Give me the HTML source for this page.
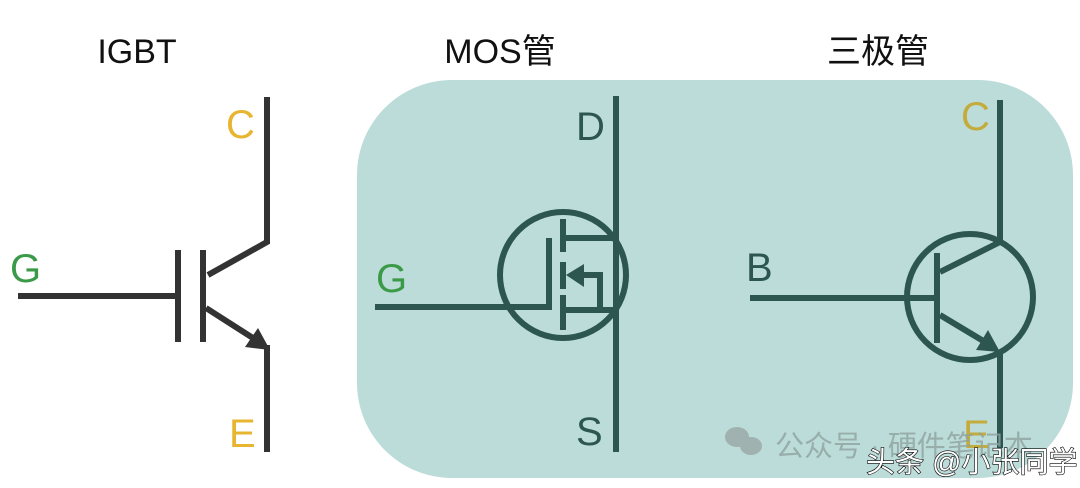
<!DOCTYPE html>
<html><head><meta charset="utf-8"><style>
html,body{margin:0;padding:0;background:#fff;width:1080px;height:488px;overflow:hidden}
</style></head><body>
<svg width="1080" height="488" viewBox="0 0 1080 488" xmlns="http://www.w3.org/2000/svg" font-family="Liberation Sans, Noto Sans CJK SC, sans-serif">
<rect x="357" y="80" width="716" height="398" rx="95" fill="#bcdcd9"/>
<g font-size="34" fill="#111" text-anchor="middle">
<text x="137" y="63">IGBT</text>
<text x="500" y="63">MOS管</text>
<text x="878" y="63">三极管</text>
</g>
<!-- IGBT -->
<g stroke="#333" stroke-width="6" fill="none">
<polyline points="267,97 267,242 208,275"/>
<line x1="18" y1="296" x2="178" y2="296"/>
<line x1="178" y1="250" x2="178" y2="342"/>
<line x1="203" y1="250" x2="203" y2="342"/>
<line x1="206" y1="308" x2="256" y2="340"/>
<line x1="267" y1="345" x2="267" y2="452"/>
</g>
<polygon points="270,350 245,347 258,328" fill="#333"/>
<g font-size="40">
<text x="226" y="138" fill="#e8b530">C</text>
<text x="10" y="282" fill="#3a9a48">G</text>
<text x="229" y="447" fill="#e8b530">E</text>
</g>
<!-- MOS -->
<g stroke="#2d5650" stroke-width="6" fill="none">
<line x1="616" y1="96" x2="616" y2="452"/>
<circle cx="563" cy="275" r="63"/>
<polyline points="375,307 549,307 549,238"/>
<line x1="563" y1="219" x2="563" y2="252"/>
<line x1="563" y1="262" x2="563" y2="289"/>
<line x1="563" y1="295" x2="563" y2="330"/>
<line x1="563" y1="238" x2="616" y2="238"/>
<line x1="563" y1="310" x2="616" y2="310"/>
<polyline points="580,275 600,275 600,310"/>
</g>
<polygon points="566,275 584,264 584,287" fill="#2d5650"/>
<g font-size="40" fill="#2d5650">
<text x="576" y="140">D</text>
<text x="576" y="445">S</text>
</g>
<text x="376" y="292" font-size="40" fill="#3a9a48">G</text>
<!-- BJT -->
<g stroke="#2d5650" stroke-width="6" fill="none">
<line x1="1000" y1="100" x2="1000" y2="243"/>
<circle cx="970" cy="297" r="63"/>
<line x1="750" y1="298" x2="936" y2="298"/>
<line x1="937" y1="253" x2="937" y2="343"/>
<line x1="940" y1="272" x2="1000" y2="242"/>
<line x1="940" y1="315" x2="985" y2="342"/>
<line x1="1000" y1="350" x2="1000" y2="448"/>
</g>
<polygon points="1000,352 976,350 988,330" fill="#2d5650"/>
<text x="746" y="281" font-size="40" fill="#2d5650">B</text>
<text x="961" y="130" font-size="40" fill="#c4ac3c">C</text>
<text x="963" y="448" font-size="40" fill="#c4ac3c">E</text>
<!-- watermark -->
<g fill="#9aa8a6" opacity="0.8">
<ellipse cx="737" cy="437" rx="12" ry="10"/>
<ellipse cx="751" cy="446" rx="11" ry="9"/>
</g>
<text x="775" y="456" font-size="29" fill="#8fa3a0" opacity="0.8">公众号 · 硬件笔记本</text>
<text x="866" y="472" font-size="29" fill="#fff" stroke="#000" stroke-width="1.2" paint-order="stroke">头条 @小张同学</text>
</svg>
</body></html>
